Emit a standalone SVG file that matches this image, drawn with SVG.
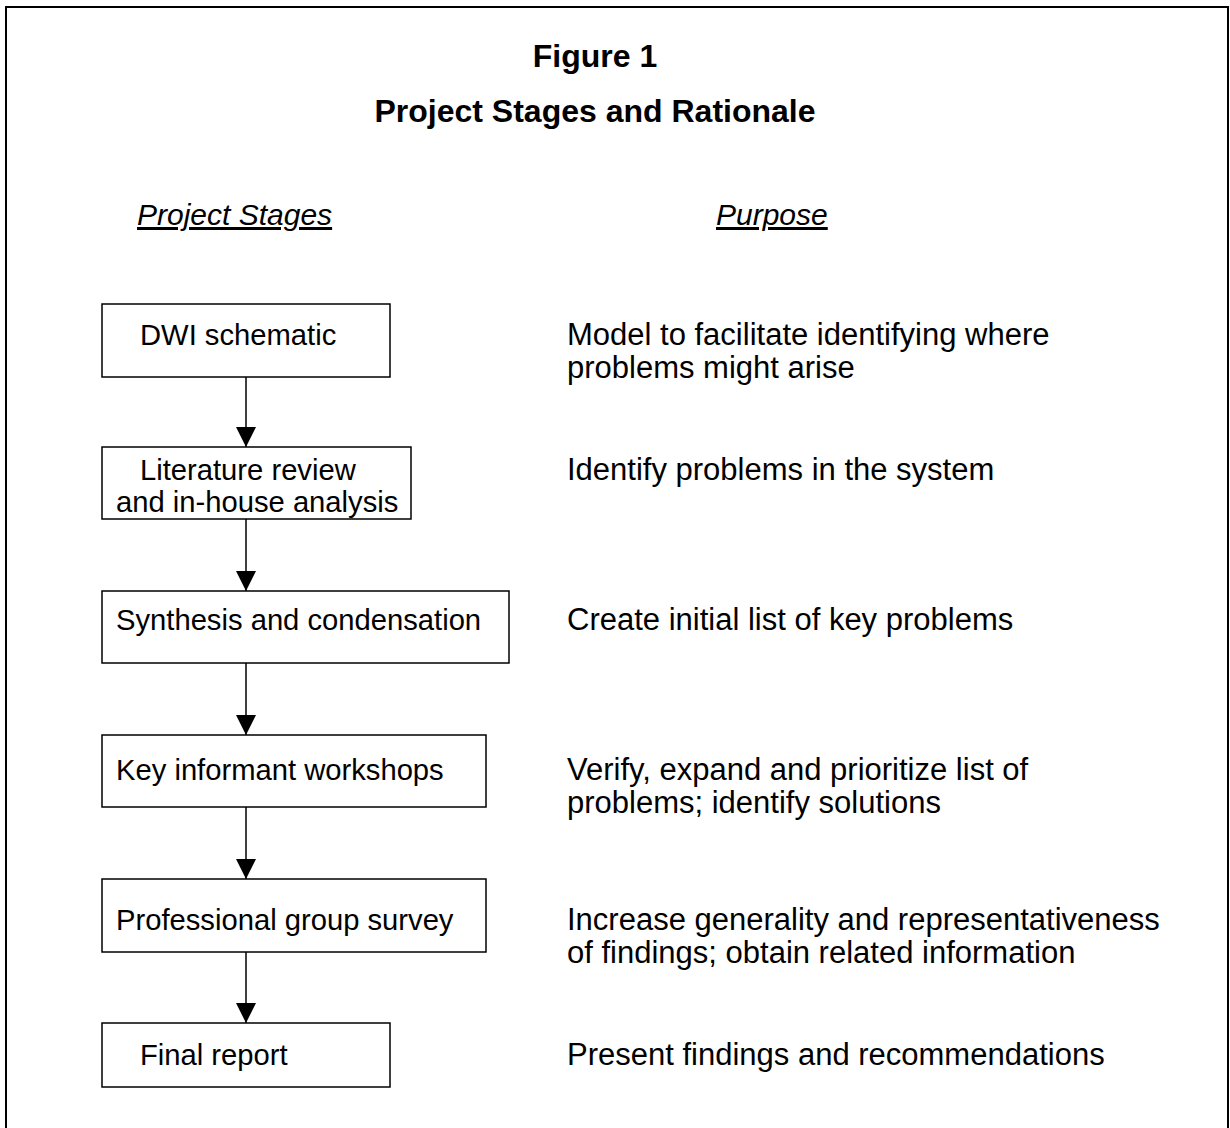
<svg xmlns="http://www.w3.org/2000/svg" width="1230" height="1128" viewBox="0 0 1230 1128">
  <style>
    text { font-family: "Liberation Sans", Arial, sans-serif; font-size: 29.2px; fill: #000; }
    .title { font-weight: bold; font-size: 32px; text-anchor: middle; }
    .head { font-style: italic; text-decoration: underline; font-size: 30px; }
    .purpose { font-size: 31px; }
    .box { fill: #fff; stroke: #000; stroke-width: 1.5; }
    .conn { stroke: #000; stroke-width: 1.5; fill: none; marker-end: url(#arrow); }
  </style>
  <defs>
    <marker id="arrow" viewBox="0 0 20 20" refX="20" refY="10" markerWidth="20" markerHeight="20" markerUnits="userSpaceOnUse" orient="auto">
      <path d="M0,0 L20,10 L0,20 Z" fill="#000"/>
    </marker>
  </defs>

  <rect x="0" y="0" width="1230" height="1128" fill="#fff"/>
  <!-- outer frame -->
  <rect x="6" y="7" width="1222" height="1140" fill="none" stroke="#000" stroke-width="2"/>

  <!-- titles -->
  <text class="title" x="595" y="67">Figure 1</text>
  <text class="title" x="595" y="122">Project Stages and Rationale</text>
  <text class="head" x="137" y="225">Project Stages</text>
  <text class="head" x="716" y="225">Purpose</text>

  <!-- connectors -->
  <g id="connectors">
    <line class="conn" x1="246" y1="377" x2="246" y2="447"/>
    <line class="conn" x1="246" y1="519" x2="246" y2="591"/>
    <line class="conn" x1="246" y1="663" x2="246" y2="735"/>
    <line class="conn" x1="246" y1="807" x2="246" y2="879"/>
    <line class="conn" x1="246" y1="952" x2="246" y2="1023"/>
  </g>

  <!-- stage nodes -->
  <g id="dwi-schematic">
    <rect class="box" x="102" y="304" width="288" height="73"/>
    <text x="140" y="345">DWI schematic</text>
  </g>
  <g id="literature-review">
    <rect class="box" x="102" y="447" width="309" height="72"/>
    <text x="140" y="480">Literature review</text>
    <text x="116" y="512">and in-house analysis</text>
  </g>
  <g id="synthesis">
    <rect class="box" x="102" y="591" width="407" height="72"/>
    <text x="116" y="630">Synthesis and condensation</text>
  </g>
  <g id="workshops">
    <rect class="box" x="102" y="735" width="384" height="72"/>
    <text x="116" y="780">Key informant workshops</text>
  </g>
  <g id="survey">
    <rect class="box" x="102" y="879" width="384" height="73"/>
    <text x="116" y="930">Professional group survey</text>
  </g>
  <g id="final-report">
    <rect class="box" x="102" y="1023" width="288" height="64"/>
    <text x="140" y="1065">Final report</text>
  </g>

  <!-- purpose column -->
  <g id="purposes">
    <text class="purpose" x="567" y="345">Model to facilitate identifying where</text>
    <text class="purpose" x="567" y="378">problems might arise</text>
    <text class="purpose" x="567" y="480">Identify problems in the system</text>
    <text class="purpose" x="567" y="630">Create initial list of key problems</text>
    <text class="purpose" x="567" y="780">Verify, expand and prioritize list of</text>
    <text class="purpose" x="567" y="813">problems; identify solutions</text>
    <text class="purpose" x="567" y="930">Increase generality and representativeness</text>
    <text class="purpose" x="567" y="963">of findings; obtain related information</text>
    <text class="purpose" x="567" y="1065">Present findings and recommendations</text>
  </g>
</svg>
